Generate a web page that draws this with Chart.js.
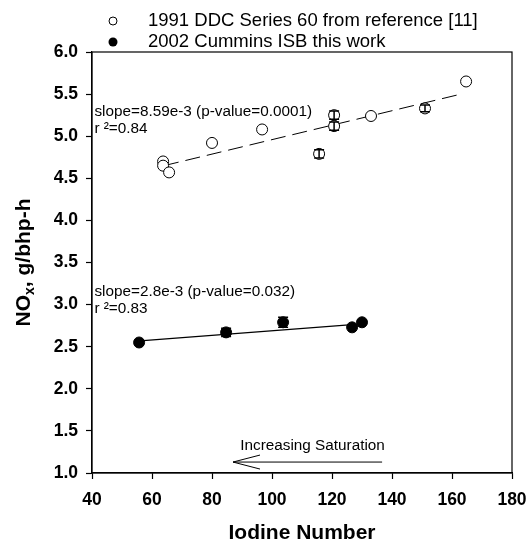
<!DOCTYPE html>
<html><head><meta charset="utf-8">
<script src="https://cdn.jsdelivr.net/npm/chart.js@4/dist/chart.umd.min.js"></script>
<style>html,body{margin:0;padding:0;background:#fff}#wrap{width:526px;height:544px}</style>
</head><body><div id="wrap"><canvas id="c" width="526" height="544"></canvas></div>
<script>
const seriesNames = ['1991 DDC Series 60 from reference [11]', '2002 Cummins ISB this work'];
const ddcX = [63.7, 63.7, 65.7, 80, 96.7, 115.7, 120.7, 120.7, 133, 151, 164.7];
const ddcY = [4.70, 4.65, 4.57, 4.92, 5.08, 4.79, 5.25, 5.12, 5.24, 5.33, 5.65];
const ddcErr = [0, 0, 0, 0, 0, 0.05, 0.05, 0.05, 0, 0.04, 0];
const isbX = [55.7, 84.7, 103.7, 126.7, 130];
const isbY = [2.55, 2.67, 2.79, 2.73, 2.79];
const isbErr = [0, 0.05, 0.06, 0, 0.02];
const fitDdcX = [64, 163];
const fitDdcY = [4.65, 5.50];
const fitIsbX = [56, 130];
const fitIsbY = [2.57, 2.77];
const xTicks = [40, 60, 80, 100, 120, 140, 160, 180];
const yTicks = [1.0, 1.5, 2.0, 2.5, 3.0, 3.5, 4.0, 4.5, 5.0, 5.5, 6.0];
const annotations = [
  {x: 40.8, y: 5.29, lines: ['slope=8.59e-3 (p-value=0.0001)', 'r \u00B2=0.84']},
  {x: 40.8, y: 3.15, lines: ['slope=2.8e-3 (p-value=0.032)', 'r \u00B2=0.83']}
];
const arrowText = 'Increasing Saturation';
const arrowFromX = 136.7, arrowToX = 87, arrowY = 1.13;

const pts = (xs, ys) => xs.map((x, i) => ({x, y: ys[i]}));
const FONT = '"Liberation Sans", Arial, sans-serif';

const extras = {
  id: 'extras',
  afterDatasetsDraw(chart) {
    const {ctx, chartArea: ca, scales: {x, y}} = chart;
    ctx.save();
    // error bars
    ctx.strokeStyle = '#000'; ctx.lineWidth = 1.5;
    const eb = (xs, ys, es) => xs.forEach((xv, i) => {
      if (!es[i]) return;
      const px = x.getPixelForValue(xv);
      const top = y.getPixelForValue(ys[i] + es[i]);
      const bot = y.getPixelForValue(ys[i] - es[i]);
      ctx.beginPath();
      ctx.moveTo(px, top); ctx.lineTo(px, bot);
      ctx.moveTo(px - 5, top); ctx.lineTo(px + 5, top);
      ctx.moveTo(px - 5, bot); ctx.lineTo(px + 5, bot);
      ctx.stroke();
    });
    eb(ddcX, ddcY, ddcErr);
    eb(isbX, isbY, isbErr);
    // frame
    ctx.lineWidth = 1.2;
    ctx.strokeRect(ca.left, ca.top, ca.right - ca.left, ca.bottom - ca.top);
    // annotations
    ctx.fillStyle = '#000';
    ctx.font = '15.3px ' + FONT;
    ctx.textAlign = 'left'; ctx.textBaseline = 'middle';
    annotations.forEach(a => {
      const px = x.getPixelForValue(a.x), py = y.getPixelForValue(a.y);
      a.lines.forEach((t, i) => ctx.fillText(t, px, py + i * 17));
    });
    // arrow
    const ax1 = x.getPixelForValue(arrowFromX), ax2 = x.getPixelForValue(arrowToX), ay = y.getPixelForValue(arrowY);
    ctx.lineWidth = 1;
    ctx.beginPath();
    ctx.moveTo(ax1, ay); ctx.lineTo(ax2, ay);
    ctx.moveTo(ax2 + 27, ay - 7); ctx.lineTo(ax2, ay); ctx.lineTo(ax2 + 27, ay + 7);
    ctx.stroke();
    ctx.textAlign = 'center';
    ctx.font = '15.3px ' + FONT;
    ctx.fillText(arrowText, (ax1 + ax2) / 2 + 5, ay - 16);
    // legend
    ctx.font = '18.5px ' + FONT;
    ctx.textAlign = 'left';
    const ly = [21, 42];
    ctx.beginPath(); ctx.arc(113, ly[0], 4, 0, Math.PI * 2);
    ctx.fillStyle = '#fff'; ctx.fill(); ctx.strokeStyle = '#000'; ctx.lineWidth = 1; ctx.stroke();
    ctx.beginPath(); ctx.arc(113, ly[1], 4.5, 0, Math.PI * 2);
    ctx.fillStyle = '#000'; ctx.fill();
    ctx.fillText(seriesNames[0], 148, ly[0]);
    ctx.fillText(seriesNames[1], 148, ly[1]);
    // y title with subscript
    const cy = (ca.top + ca.bottom) / 2;
    ctx.translate(22, cy);
    ctx.rotate(-Math.PI / 2);
    const p1 = 'NO', sub = 'x', p2 = ', g/bhp-h';
    ctx.font = 'bold 21px ' + FONT; const w1 = ctx.measureText(p1).width;
    ctx.font = 'bold 14px ' + FONT; const ws = ctx.measureText(sub).width;
    ctx.font = 'bold 21px ' + FONT; const w2 = ctx.measureText(p2).width;
    let sx = -(w1 + ws + w2) / 2;
    ctx.textAlign = 'left'; ctx.textBaseline = 'alphabetic';
    ctx.fillText(p1, sx, 8); sx += w1;
    ctx.font = 'bold 14px ' + FONT; ctx.fillText(sub, sx, 12); sx += ws;
    ctx.font = 'bold 21px ' + FONT; ctx.fillText(p2, sx, 8);
    ctx.restore();
  }
};

new Chart(document.getElementById('c'), {
  type: 'scatter',
  data: {
    datasets: [
      {label: seriesNames[0], data: pts(ddcX, ddcY), pointRadius: 5.5, pointBackgroundColor: '#fff', pointBorderColor: '#000', pointBorderWidth: 1, showLine: false, order: 1},
      {label: seriesNames[1], data: pts(isbX, isbY), pointRadius: 5.5, pointBackgroundColor: '#000', pointBorderColor: '#000', pointBorderWidth: 1, showLine: false, order: 1},
      {label: 'fit1', data: pts(fitDdcX, fitDdcY), showLine: true, pointRadius: 0, borderColor: '#000', borderWidth: 1, borderDash: [15, 7], order: 2},
      {label: 'fit2', data: pts(fitIsbX, fitIsbY), showLine: true, pointRadius: 0, borderColor: '#000', borderWidth: 1.2, order: 2}
    ]
  },
  options: {
    responsive: false, animation: false,
    layout: {padding: {top: 52, right: 14, left: 0, bottom: 0}},
    plugins: {legend: {display: false}, tooltip: {enabled: false}},
    scales: {
      x: {
        type: 'linear', min: 40, max: 180,
        afterBuildTicks: s => { s.ticks = xTicks.map(v => ({value: v})); },
        afterFit: s => { s.height = 71; s.paddingLeft = 0; s.paddingRight = 0; },
        grid: {drawOnChartArea: false, tickLength: 6, color: '#000', tickWidth: 1.2},
        border: {display: true, color: '#000', width: 1.2},
        ticks: {color: '#000', font: {family: FONT, size: 17.5, weight: 'bold'}, padding: 11},
        title: {display: true, text: 'Iodine Number', color: '#000', font: {family: FONT, size: 21, weight: 'bold'}, padding: {top: 22, bottom: -2}}
      },
      y: {
        type: 'linear', min: 1, max: 6,
        afterBuildTicks: s => { s.ticks = yTicks.map(v => ({value: v})); },
        afterFit: s => { s.width = 92; s.paddingTop = 0; s.paddingBottom = 0; },
        grid: {drawOnChartArea: false, tickLength: 6, color: '#000', tickWidth: 1.2},
        border: {display: true, color: '#000', width: 1.2},
        ticks: {color: '#000', font: {family: FONT, size: 17.5, weight: 'bold'}, padding: 8, callback: v => v.toFixed(1)}
      }
    }
  },
  plugins: [extras]
});
</script></body></html>
